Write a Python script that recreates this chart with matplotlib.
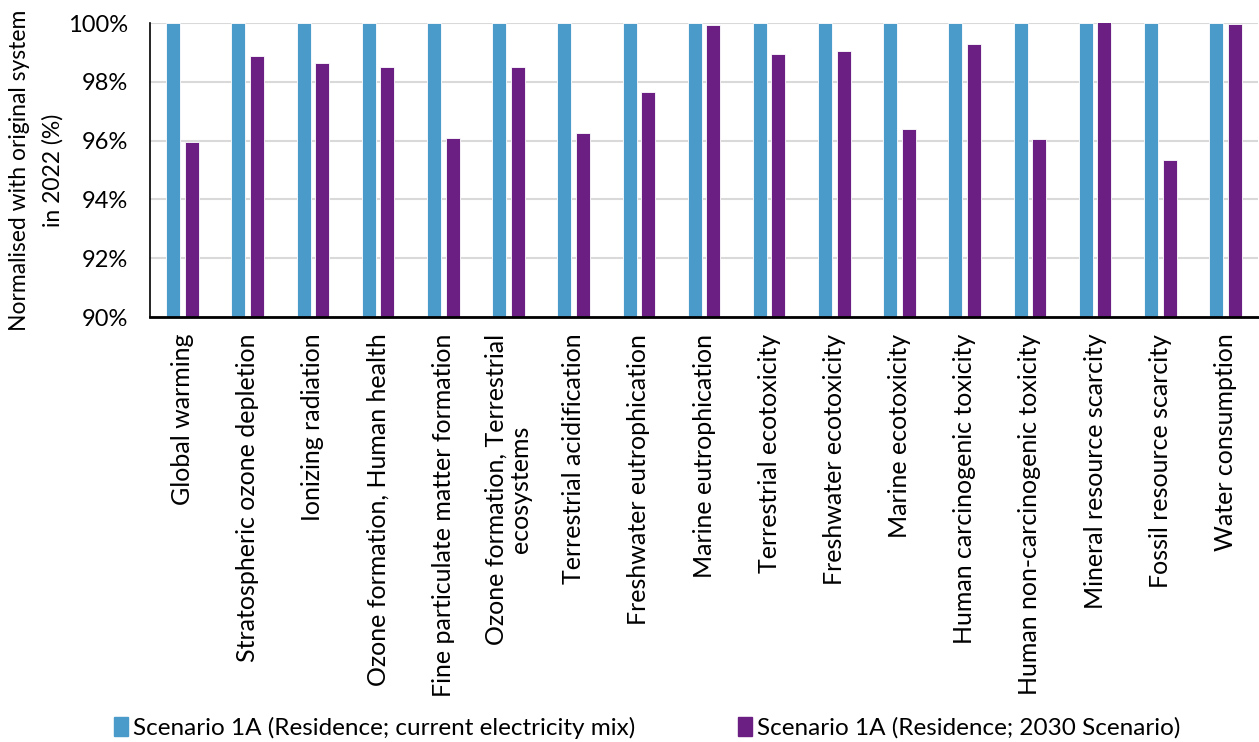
import matplotlib
matplotlib.use("Agg")
import matplotlib.pyplot as plt
import numpy as np
from matplotlib.patches import Patch

plt.rcParams['font.family'] = ['Lato', 'DejaVu Sans']

categories = [
    "Global warming",
    "Stratospheric ozone depletion",
    "Ionizing radiation",
    "Ozone formation, Human health",
    "Fine particulate matter formation",
    "Ozone formation, Terrestrial\necosystems",
    "Terrestrial acidification",
    "Freshwater eutrophication",
    "Marine eutrophication",
    "Terrestrial ecotoxicity",
    "Freshwater ecotoxicity",
    "Marine ecotoxicity",
    "Human carcinogenic toxicity",
    "Human non-carcinogenic toxicity",
    "Mineral resource scarcity",
    "Fossil resource scarcity",
    "Water consumption",
]
current_mix = [100.0] * 17
scenario_2030 = [95.96, 98.89, 98.65, 98.49, 96.08, 98.51, 96.25, 97.66, 99.94,
                 98.96, 99.04, 96.38, 99.30, 96.04, 100.03, 95.33, 99.97]
series_labels = ["Scenario 1A (Residence; current electricity mix)",
                 "Scenario 1A (Residence; 2030 Scenario)"]
yticks = [90, 92, 94, 96, 98, 100]

blue = "#4A9BCA"
purple = "#6B1F83"

fig = plt.figure(figsize=(12.59, 7.42), dpi=100)
ax = fig.add_axes([150 / 1259, 1 - 317 / 742, 1108 / 1259, 294 / 742])

x = np.arange(len(categories))
w = 0.215
off = 0.1425
ax.bar(x - off, current_mix, width=w, color=blue, edgecolor="white", linewidth=0.6, zorder=3)
ax.bar(x + off, scenario_2030, width=w, color=purple, edgecolor="white", linewidth=0.6, zorder=3)

ax.set_ylim(90, 100)
ax.set_xlim(-0.5, len(categories) - 0.5)
ax.set_yticks(yticks)
ax.set_yticklabels([f"{v}%" for v in yticks], fontsize=17)
ax.set_xticks(x)
ax.set_xticklabels(categories, rotation=90, fontsize=18, va="top", ha="center",
                   linespacing=1.05)
ax.tick_params(axis="y", length=0, pad=16)
ax.tick_params(axis="x", length=0, pad=12)
ax.grid(axis="y", color="#d9d9d9", linewidth=1.5, zorder=0)
ax.set_axisbelow(True)
for s in ["top", "right"]:
    ax.spines[s].set_visible(False)
ax.spines["left"].set_linewidth(1.2)
ax.spines["bottom"].set_linewidth(2)
ax.spines["left"].set_zorder(4)
ax.spines["bottom"].set_zorder(4)

ax.set_ylabel("Normalised with original system\nin 2022 (%)", fontsize=16.5,
              linespacing=1.7)
ax.yaxis.set_label_coords(-0.078, 0.5)

handles = [Patch(color=blue), Patch(color=purple)]
fig.legend(handles, series_labels, loc="center", bbox_to_anchor=(0.514, 0.019),
           ncol=2, frameon=False, fontsize=17.5, handlelength=0.6, handleheight=0.8,
           handletextpad=0.2, columnspacing=4.2, borderpad=0)

fig.savefig("out.png", dpi=100)
